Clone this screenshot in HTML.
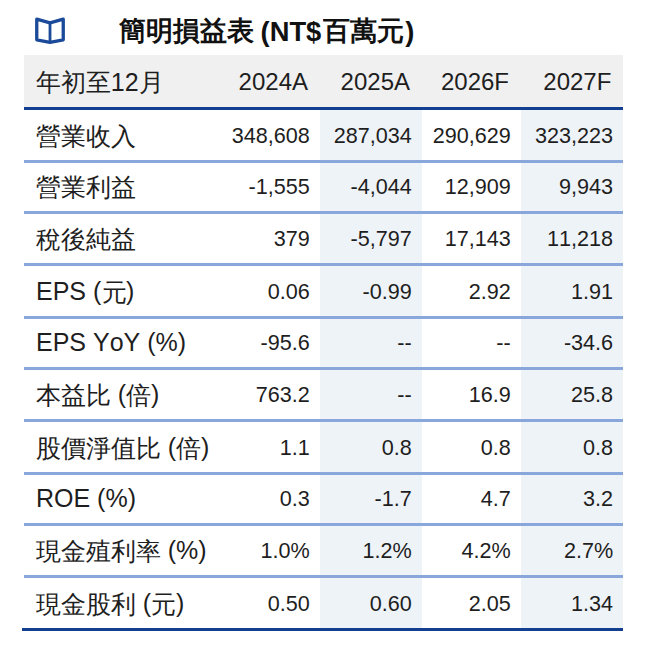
<!DOCTYPE html>
<html lang="zh-Hant">
<head>
<meta charset="utf-8">
<title>簡明損益表</title>
<style>
html,body{margin:0;padding:0;background:#fff;}
body{width:659px;height:652px;position:relative;overflow:hidden;font-family:"Liberation Sans",sans-serif;color:#1e1e1e;font-kerning:none;}
.icon{position:absolute;left:30px;top:12px;width:40px;height:36px;}
.title{position:absolute;left:0;top:14px;width:659px;height:34px;font-weight:bold;color:#111;}
.title span{position:absolute;top:0;height:34px;line-height:34px;white-space:nowrap;overflow:hidden;font-size:26.67px;}
.title .t1{left:118.7px;width:136px;top:0.4px;}
.title .t2{left:260.6px;width:62px;font-size:27.3px;top:0.8px;}
.title .t3{left:323px;width:81px;top:0.4px;}
.title .t4{left:405.2px;width:12px;font-size:27.3px;top:0.8px;}
.tbl{position:absolute;left:24px;top:54.5px;width:599.4px;}
.row{position:relative;height:49px;border-bottom:3px solid #8aa7dc;box-sizing:content-box;white-space:nowrap;overflow:hidden;}
.row.head{height:52.5px;background:#f0f0f0;border-bottom:3px solid #123f90;}
.h48{height:48px;}.h50{height:50px;}
.row.last{border-bottom-color:#123f90;}
.c{position:absolute;bottom:0;height:51px;overflow:hidden;white-space:nowrap;font-size:21.6px;line-height:54px;text-align:right;box-sizing:border-box;padding-right:10.3px;}
.head .c{top:0;bottom:0;height:auto;font-size:24px;line-height:54px;padding-right:12px;}
.c0{left:0;width:196px;text-align:left;padding:0 0 0 12px;font-size:25px;line-height:52.8px;}
.c0 .k{display:inline-block;white-space:nowrap;font-size:24.5px;line-height:inherit;position:relative;top:0.5px;margin-left:0.4px;margin-right:-0.6px;}
.head .c0{font-size:25px;line-height:55px;}
.c1{left:196px;width:100px;}
.c2{left:296px;width:102px;background:#eef3f8;}
.c3{left:398px;width:99px;}
.c4{left:497px;width:102.4px;background:#eef3f8;}
.head .c2,.head .c4{background:transparent;}
.foot{position:absolute;left:22px;top:628px;width:3px;height:3px;background:#123f90;}
</style>
</head>
<body>
<svg class="icon" viewBox="30 12 40 36">
<path d="M36.75 19.2 L50 22.8 L63.25 19.2 L63.25 39.8 L50 42.4 L36.75 39.8 Z" fill="none" stroke="#1a4a99" stroke-width="3.3" stroke-linejoin="round"/>
<path d="M50 22.8 L50 42.4" fill="none" stroke="#1a4a99" stroke-width="2.8"/>
</svg>
<div class="title"><span class="t1">簡明損益表</span><span class="t2">(NT$</span><span class="t3">百萬元</span><span class="t4">)</span></div>
<div class="tbl">
<div class="row head"><div class="c c0"><span class="k" style="width:75px">年初至</span>12<span class="k" style="width:25px">月</span></div><div class="c c1">2024A</div><div class="c c2">2025A</div><div class="c c3">2026F</div><div class="c c4">2027F</div></div>
<div class="row h50"><div class="c c0"><span class="k" style="width:100px">營業收入</span></div><div class="c c1">348,608</div><div class="c c2">287,034</div><div class="c c3">290,629</div><div class="c c4">323,223</div></div>
<div class="row h48"><div class="c c0"><span class="k" style="width:100px">營業利益</span></div><div class="c c1">-1,555</div><div class="c c2">-4,044</div><div class="c c3">12,909</div><div class="c c4">9,943</div></div>
<div class="row h49"><div class="c c0"><span class="k" style="width:100px">稅後純益</span></div><div class="c c1">379</div><div class="c c2">-5,797</div><div class="c c3">17,143</div><div class="c c4">11,218</div></div>
<div class="row h50"><div class="c c0">EPS (<span class="k" style="width:25px">元</span>)</div><div class="c c1">0.06</div><div class="c c2">-0.99</div><div class="c c3">2.92</div><div class="c c4">1.91</div></div>
<div class="row h48"><div class="c c0">EPS YoY (%)</div><div class="c c1">-95.6</div><div class="c c2">--</div><div class="c c3">--</div><div class="c c4">-34.6</div></div>
<div class="row h49"><div class="c c0"><span class="k" style="width:75px">本益比</span> (<span class="k" style="width:25px">倍</span>)</div><div class="c c1">763.2</div><div class="c c2">--</div><div class="c c3">16.9</div><div class="c c4">25.8</div></div>
<div class="row h50"><div class="c c0"><span class="k" style="width:125px">股價淨值比</span> (<span class="k" style="width:25px">倍</span>)</div><div class="c c1">1.1</div><div class="c c2">0.8</div><div class="c c3">0.8</div><div class="c c4">0.8</div></div>
<div class="row h48"><div class="c c0">ROE (%)</div><div class="c c1">0.3</div><div class="c c2">-1.7</div><div class="c c3">4.7</div><div class="c c4">3.2</div></div>
<div class="row h49"><div class="c c0"><span class="k" style="width:125px">現金殖利率</span> (%)</div><div class="c c1">1.0%</div><div class="c c2">1.2%</div><div class="c c3">4.2%</div><div class="c c4">2.7%</div></div>
<div class="row last h50"><div class="c c0"><span class="k" style="width:100px">現金股利</span> (<span class="k" style="width:25px">元</span>)</div><div class="c c1">0.50</div><div class="c c2">0.60</div><div class="c c3">2.05</div><div class="c c4">1.34</div></div>
</div>
<div class="foot"></div>
</body>
</html>
